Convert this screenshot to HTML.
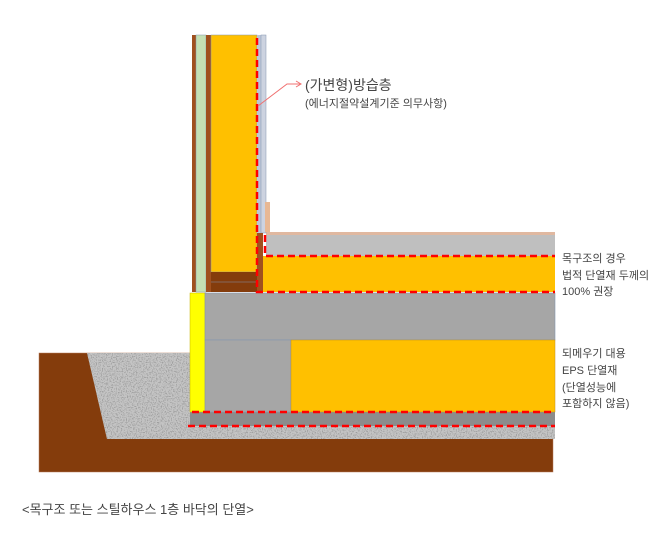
<!DOCTYPE html>
<html><head><meta charset="utf-8"><style>
html,body{margin:0;padding:0;background:#fff;width:671px;height:536px;overflow:hidden}
svg{display:block}
text{font-family:"Liberation Sans","Noto Sans CJK KR",sans-serif;fill:#444}
</style></head><body>
<svg width="671" height="536" viewBox="0 0 671 536" xmlns="http://www.w3.org/2000/svg">
<defs>
<filter id="grav" x="0" y="0" width="100%" height="100%">
<feTurbulence type="fractalNoise" baseFrequency="0.8" numOctaves="2" seed="3" result="n"/>
<feColorMatrix in="n" type="matrix" values="0 0 0 0 0.35  0 0 0 0 0.35  0 0 0 0 0.35  5 0 0 0 -2.4" result="c"/>
<feComposite in="c" in2="SourceGraphic" operator="in" result="t"/>
<feMerge><feMergeNode in="SourceGraphic"/><feMergeNode in="t"/></feMerge>
</filter>
</defs>
<rect x="39" y="353" width="514" height="119" fill="#843c0c" stroke="#b87a5a" stroke-width="0.5"/>
<g filter="url(#grav)">
<path d="M87 353 L190 353 L190 426 L555 426 L555 439 L107 439 Z" fill="#c4c4c4"/>
</g>
<rect x="190" y="412" width="365" height="14" fill="#8c8c8c"/>
<rect x="190" y="293" width="15" height="119" fill="#ffff00" stroke="#c8b400" stroke-width="0.5"/>
<rect x="205" y="293" width="350" height="47" fill="#a6a6a6" stroke="#8496b0" stroke-width="0.6"/>
<rect x="205" y="340" width="86" height="72" fill="#a6a6a6" stroke="#8496b0" stroke-width="0.6"/>
<rect x="291" y="340" width="264" height="72" fill="#ffc000" stroke="#c09020" stroke-width="0.5"/>
<rect x="266" y="232" width="289" height="3" fill="#e0b8a0"/>
<rect x="266" y="235" width="289" height="21" fill="#bfbfbf"/>
<rect x="262" y="256" width="293" height="36" fill="#ffc000"/>
<rect x="192" y="35" width="4" height="257" fill="#a0501e"/>
<rect x="196" y="35" width="10" height="257" fill="#c5e0b4" stroke="#8496b0" stroke-width="0.5"/>
<rect x="206" y="35" width="5" height="257" fill="#a0501e"/>
<rect x="211" y="35" width="46" height="237" fill="#ffc000" stroke="#8496b0" stroke-width="0.5"/>
<rect x="211" y="272" width="46" height="20" fill="#843c0c"/>
<line x1="211" y1="282" x2="257" y2="282" stroke="#8496b0" stroke-width="0.6"/>
<rect x="257" y="35" width="4" height="198" fill="#bcc6d8"/>
<rect x="261" y="35" width="5" height="198" fill="#cdd3e0" stroke="#8496b0" stroke-width="0.5"/>
<rect x="265" y="202" width="5" height="30" fill="#e8b894"/>
<rect x="257" y="233" width="6" height="59" fill="#a0501e"/>
<g stroke="#ff0000" stroke-width="2.5" stroke-dasharray="7,4" fill="none">
<path d="M257 38 L257 292 L555 292"/>
<path d="M265 235 L265 256 L555 256"/>
<line x1="192" y1="412" x2="555" y2="412"/>
<line x1="188" y1="426" x2="555" y2="426"/>
</g>
<path d="M258 106 L287 84 L300 84" stroke="#f07070" stroke-width="1" fill="none"/>
<path d="M296 81 L301 84 L296 87" stroke="#f07070" stroke-width="1" fill="none"/>
<text x="305" y="90" font-size="14" fill="#333">(가변형)방습층</text>
<text x="305" y="107" font-size="11">(에너지절약설계기준  의무사항)</text>
<g font-size="11">
<text x="562" y="262">목구조의 경우</text>
<text x="562" y="279">법적 단열재 두께의</text>
<text x="562" y="295">100% 권장</text>
<text x="562" y="357">되메우기 대용</text>
<text x="562" y="374">EPS 단열재</text>
<text x="562" y="391">(단열성능에</text>
<text x="562" y="407">포함하지 않음)</text>
</g>
<text x="22" y="514" font-size="13" fill="#333">&lt;목구조 또는 스틸하우스 1층 바닥의 단열&gt;</text>
</svg>
</body></html>
